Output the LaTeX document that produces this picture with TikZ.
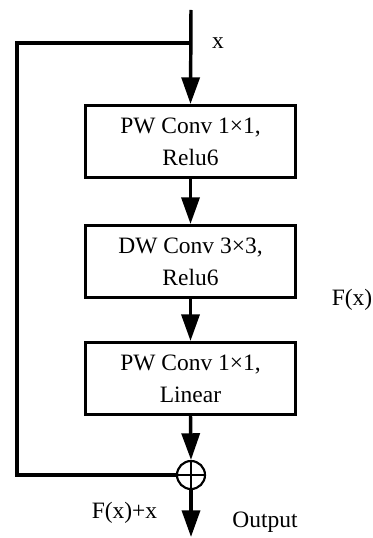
\documentclass[tikz,border=0pt]{standalone}
\usepackage{fontspec}
\setmainfont{Liberation Serif}
\usetikzlibrary{arrows.meta,positioning}

\tikzset{
	blockbox/.style={draw, line width=2.25pt, minimum width=157.5pt, minimum height=54pt,
		inner sep=0pt, align=center, font=\fontsize{17.6}{24}\selectfont},
	flow/.style={line width=2.6pt, -{Triangle[length=20pt,width=13.5pt]}},
	wire/.style={line width=2.4pt},
	sumnode/.style={draw, circle, line width=1.6pt, minimum size=21pt, inner sep=0pt},
	lbl/.style={font=\fontsize{17.6}{20}\selectfont, inner sep=0pt}
}

\begin{document}
\begin{tikzpicture}[x=0.75pt,y=0.75pt,yscale=-1,xscale=1]
	\useasboundingbox (0,0) rectangle (373,538);
	
	% Blocks of the residual branch
	\node [blockbox] (pw1) at (190.5,141.5) {PW Conv 1×1,\\Relu6};
	\node [blockbox] (dw) at (190.5,261.5) {DW Conv 3×3,\\Relu6};
	\node [blockbox] (pw2) at (190.5,378.5) {PW Conv 1×1,\\Linear};
	
	% Adder
	\node [sumnode] (sum) at (191,475) {};
	\draw [line width=1.6pt] (sum.north) -- (sum.south) (sum.west) -- (sum.east);
	
	% Input, split point and output end
	\coordinate (in) at (191,10);
	\coordinate (split) at (191,43);
	\coordinate (skip) at (17,43);
	\coordinate (out) at (191,537);
	
	% Main path
	\draw [flow] (in) -- (pw1.north);
	\draw [flow] (pw1.south) -- (dw.north);
	\draw [flow] (dw.south) -- (pw2.north);
	\draw [flow] (pw2.south) -- (sum.north);
	\draw [flow] (sum.south) -- (out);
	
	% Shortcut
	\draw [wire, line join=miter] (split) -- (skip) |- (sum.west);
	
	% Text Node
	\node [lbl] (xlbl) at (218,43) {x};
	% Text Node
	\node [lbl] (flbl) at (352,300) {F(x)};
	% Text Node
	\node [lbl] (sumlbl) at (124.5,513) {F(x)+x};
	% Text Node
	\node [lbl] (outlbl) at (265,522) {Output};
\end{tikzpicture}
\end{document}
